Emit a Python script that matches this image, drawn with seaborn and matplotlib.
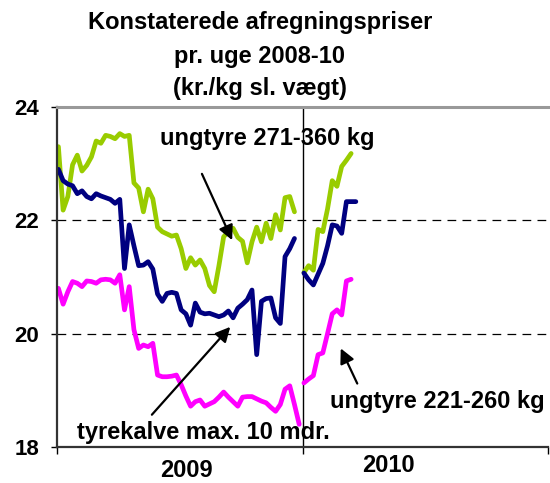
import numpy as np
import pandas as pd
import seaborn as sns
import matplotlib.pyplot as plt

# weekly prices (kr./kg), 2009 and first weeks of 2010
ungtyre_271_2009 = [23.30, 22.18, 22.42, 22.98, 23.15, 22.87, 22.97, 23.12, 23.40, 23.36,
                    23.50, 23.48, 23.44, 23.53, 23.48, 23.50, 22.66, 22.57, 22.15, 22.55,
                    22.38, 21.88, 21.80, 21.76, 21.72, 21.74, 21.50, 21.15, 21.34, 21.21,
                    21.30, 21.15, 20.85, 20.74, 21.20, 21.71, 21.80, 21.86, 21.70, 21.63,
                    21.25, 21.62, 21.88, 21.62, 21.95, 21.68, 22.10, 21.83, 22.40, 22.42,
                    22.15]
ungtyre_271_2010 = [21.08, 21.20, 21.12, 21.84, 21.80, 22.20, 22.70, 22.60, 22.95, 23.06, 23.18]

tyrekalve_2009 = [22.90, 22.70, 22.64, 22.61, 22.47, 22.52, 22.42, 22.38, 22.47, 22.43,
                  22.40, 22.37, 22.30, 22.37, 21.15, 21.92, 21.55, 21.20, 21.21, 21.27,
                  21.14, 20.70, 20.57, 20.71, 20.73, 20.71, 20.42, 20.35, 20.15, 20.54,
                  20.38, 20.35, 20.36, 20.33, 20.30, 20.33, 20.40, 20.28, 20.45, 20.52,
                  20.60, 20.77, 19.63, 20.57, 20.62, 20.63, 20.28, 20.18, 21.36, 21.50,
                  21.68]
tyrekalve_2010 = [21.07, 20.95, 20.86, 21.05, 21.24, 21.55, 21.92, 21.90, 21.77, 22.33, 22.33, 22.33]

ungtyre_221_2009 = [20.80, 20.52, 20.74, 20.92, 20.89, 20.83, 20.93, 20.92, 20.89, 20.95,
                    20.96, 20.95, 20.89, 21.04, 20.42, 20.83, 20.07, 19.74, 19.80, 19.77,
                    19.83, 19.27, 19.24, 19.24, 19.25, 19.27, 19.10, 18.90, 18.72, 18.80,
                    18.83, 18.72, 18.76, 18.80, 18.88, 18.97, 18.88, 18.80, 18.72, 18.88,
                    18.89, 18.89, 18.85, 18.81, 18.78, 18.70, 18.63, 18.75, 19.02, 19.08,
                    18.75, 18.40]
ungtyre_221_2010 = [19.13, 19.20, 19.26, 19.63, 19.66, 20.00, 20.35, 20.42, 20.33, 20.93, 20.96]

years = ["2009", "2010"]
green = "#99CC00"
navy = "#000080"
magenta = "#FF00FF"

sns.set_theme(style="white")
plt.rcParams["font.family"] = ["Liberation Sans", "DejaVu Sans"]
plt.rcParams["font.weight"] = "bold"
plt.rcParams["text.color"] = "black"
plt.rcParams["ytick.color"] = "black"
plt.rcParams["xtick.color"] = "black"

fig = plt.figure(figsize=(5.5, 4.83), dpi=100)
ax = fig.add_axes([0.1036, 0.0745, 0.8928, 0.704])

def weeks(vals, year_idx):
    return year_idx * 52 + np.arange(len(vals)) + 0.3

series = [(ungtyre_271_2009, ungtyre_271_2010, green),
          (tyrekalve_2009, tyrekalve_2010, navy),
          (ungtyre_221_2009, ungtyre_221_2010, magenta)]
for s09, s10, col in series:
    sns.lineplot(x=weeks(s09, 0), y=s09, color=col, lw=3.4, ax=ax)
    sns.lineplot(x=weeks(s10, 1), y=s10, color=col, lw=3.4, ax=ax)

ax.set_xlim(0, 104)
ax.set_ylim(18, 24)
for yv in [20, 22]:
    ax.axhline(yv, color="black", lw=0.9, ls=(0, (7, 5)), zorder=0)
ax.axvline(52, color="black", lw=1, zorder=0)

ax.set_yticks([18, 20, 22, 24])
ax.set_yticklabels(["18", "20", "22", "24"], fontsize=16, fontweight="bold")
ax.set_xticks([0, 52, 104])
ax.set_xticklabels([])
ax.tick_params(axis="y", direction="out", length=4, width=1, color="black", left=True, pad=9)
ax.tick_params(axis="x", direction="out", length=5, width=1, color="black", bottom=True)

for side in ["left", "bottom"]:
    ax.spines[side].set_color("#333333")
    ax.spines[side].set_linewidth(1.6)
ax.spines["top"].set_color("#999999")
ax.spines["top"].set_linewidth(2.2)
ax.spines["right"].set_visible(False)

tr = ax.get_xaxis_transform()
ax.text(27.4, -0.068, years[0], transform=tr, ha="center", va="center", fontsize=17, fontweight="bold")
ax.text(70.2, -0.053, years[1], transform=tr, ha="center", va="center", fontsize=17, fontweight="bold")

# labels and arrows
ax.text(44.6, 23.45, "ungtyre 271-360 kg", ha="center", va="center", fontsize=17, fontweight="bold")
ax.text(31.0, 18.25, "tyrekalve max. 10 mdr.", ha="center", va="center", fontsize=17, fontweight="bold")
ax.text(80.6, 18.81, "ungtyre 221-260 kg", ha="center", va="center", fontsize=17, fontweight="bold")
arrow = dict(arrowstyle="-|>", lw=1.6, color="black", mutation_scale=22, shrinkA=0, shrinkB=0)
ax.annotate("", xy=(37.1, 21.65), xytext=(30.7, 22.82), arrowprops=arrow)
ax.annotate("", xy=(36.7, 20.12), xytext=(20.1, 18.57), arrowprops=arrow)
ax.annotate("", xy=(60.1, 19.74), xytext=(63.6, 19.12), arrowprops=arrow)

title_lines = ["Konstaterede afregningspriser", "pr. uge 2008-10", "(kr./kg sl. vægt)"]
for line, ypx in zip(title_lines, [23, 56, 89]):
    fig.text(260 / 550, 1 - ypx / 483, line, ha="center", va="center", fontsize=17, fontweight="bold")

fig.savefig("out.png", dpi=100)
